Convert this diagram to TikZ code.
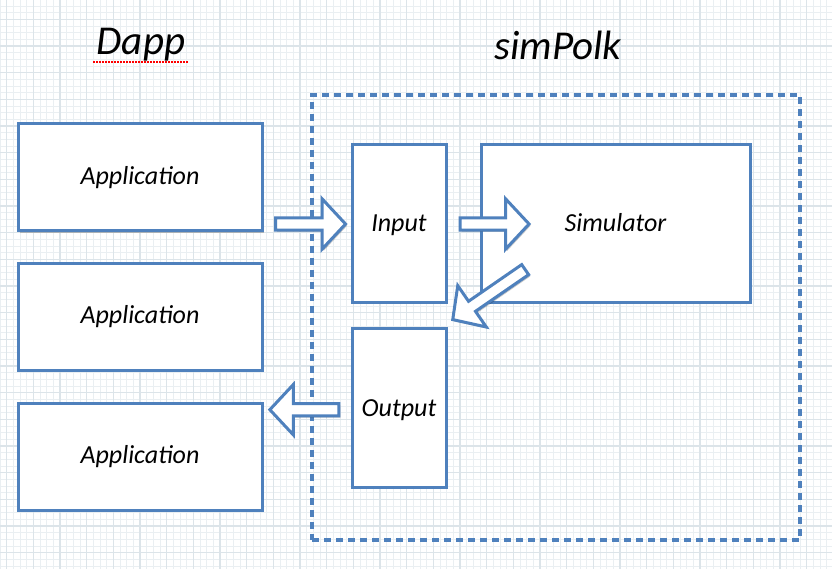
\documentclass[tikz,border=0pt]{standalone}
\usepackage{fontspec}
\setmainfont{Carlito}
\usetikzlibrary{shapes.arrows,shadows}
\definecolor{boxblue}{RGB}{79,129,189}
\definecolor{gridminor}{RGB}{234,239,242}
\definecolor{gridmajor}{RGB}{220,228,233}
\tikzset{
  shd/.style={drop shadow={shadow xshift=1.5pt,shadow yshift=-1.8pt,opacity=0.22,fill=black}},
  box/.style={draw=boxblue,line width=3pt,fill=white,shd,rectangle,inner sep=0pt,
    font=\fontsize{26}{30}\selectfont\itshape},
  nodepth/.style={text height=17pt,text depth=0pt},
  fat/.style={single arrow,draw=boxblue,line width=3pt,fill=white,shd,inner sep=4.6pt,
    single arrow head extend=19pt,single arrow tip angle=94},
  title/.style={font=\fontsize{41}{47}\selectfont\itshape,inner sep=0pt},
  region/.style={draw=boxblue,line width=3.4pt,dash pattern=on 7pt off 5pt,rectangle,inner sep=0pt},
}
\begin{document}
\begin{tikzpicture}[x=1pt,y=-1pt]
\useasboundingbox (0,0) rectangle (832,569);
\fill[white] (0,0) rectangle (832,569);
% grid
\foreach \i in {0,...,125} {
  \draw[gridminor,line width=0.7pt] ({\i*6.667},0) -- ({\i*6.667},569);
}
\foreach \i in {0,...,86} {
  \draw[gridminor,line width=0.7pt] (0,{6.0+\i*6.667}) -- (832,{6.0+\i*6.667});
}
\foreach \i in {0,...,31} {
  \draw[gridmajor,line width=1.1pt] ({6.667+\i*26.667},0) -- ({6.667+\i*26.667},569);
}
\foreach \i in {0,...,21} {
  \draw[gridmajor,line width=1.1pt] (0,{19.3+\i*26.667}) -- (832,{19.3+\i*26.667});
}
% titles
\node[title] (dapp) at (141,45) {Dapp};
\node[title] (simpolk) at (558,45) {simPolk};
\draw[red,line width=1.6pt,dash pattern=on 1.6pt off 1.4pt] (93,62) -- (188,62);
% simPolk region
\node[region,minimum width=488pt,minimum height=445pt] (sp) at (556,317.5) {};
% application boxes
\node[box,minimum width=244pt,minimum height=107pt] (app1) at (140,177.5) {Application};
\node[box,minimum width=244pt,minimum height=106pt] (app2) at (140,317) {Application};
\node[box,minimum width=244pt,minimum height=107pt] (app3) at (140,456.5) {Application};
% simPolk boxes
\node[box,nodepth,minimum width=94pt,minimum height=157pt] (input) at (399,223.5) {Input};
\node[box,nodepth,minimum width=269pt,minimum height=157pt] (sim) at (615.5,223.5) {Simulator};
\node[box,nodepth,minimum width=94pt,minimum height=159pt] (output) at (399,407.5) {Output};
% block arrows
\node[fat,minimum height=70pt] (a1) at (307.7,224) {};
\node[fat,minimum height=69pt] (a2) at (491.7,224) {};
\node[fat,minimum height=88pt,rotate=214.6] (a3) at (491.3,293) {};
\node[fat,minimum height=69pt,rotate=180] (a4) at (307.2,409.7) {};
\end{tikzpicture}
\end{document}
